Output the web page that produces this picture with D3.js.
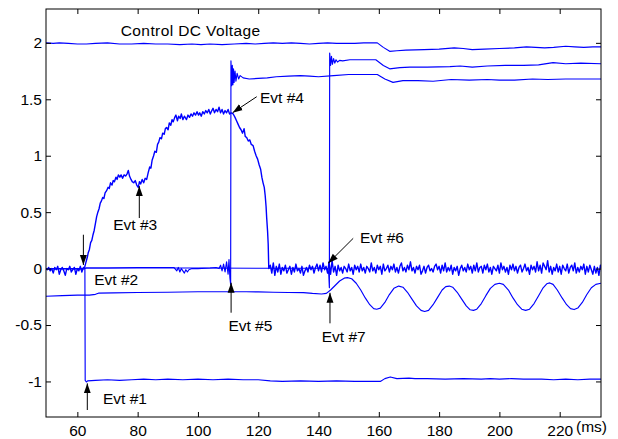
<!DOCTYPE html>
<html>
<head>
<meta charset="utf-8">
<script src="https://cdn.jsdelivr.net/npm/d3@7"></script>
<style>
  body { margin: 0; background: #fff; }
  text { font-family: Arial, "Liberation Sans", sans-serif; fill: #000; }
</style>
</head>
<body>
<svg id="chart" width="618" height="439"></svg>
<script>
// Axis set-up
const xDomain = [49.6, 233.7];
const yDomain = [-1.315, 2.3];
const xTicks = [60, 80, 100, 120, 140, 160, 180, 200, 220];
const yTicks = [-1, -0.5, 0, 0.5, 1, 1.5, 2];

// Traces: [time (ms), value]
const ctrlRef = [[49.6,2.0],[52,1.995],[54,2.0],[57,1.995],[60,1.99],[63,1.99],[66,1.995],[70,2.0],[74,1.99],[78,1.99],
  [82,1.995],[86,1.99],[90,1.99],[94,1.985],[98,1.99],[101,1.985],[104,1.99],[108,1.985],[112,1.99],[116,1.995],
  [119,1.99],[122,1.995],[125,2.0],[128,1.995],[131,2.0],[134,1.995],[137,1.99],[140,1.995],[143,2.0],[146,1.995],
  [149,1.995],[152,1.995],[155,2.0],[159.5,2.0],[161.5,1.96],[163.6,1.925],[166,1.93],[169,1.935],[175,1.94],[180,1.945],
  [185,1.955],[188,1.95],[191,1.94],[195,1.945],[200,1.95],[205,1.955],[209,1.965],[212,1.96],[215,1.955],[218,1.96],
  [222,1.97],[225,1.965],[228,1.96],[231,1.965],[233.7,1.965]];

const switchA = [[49.6,0],[62,0],[63,0.005],[70,0.005],[80,0.01],[88,0.01],[92,0.01],[93,-0.02],[93.5,0.01],[94,-0.03],
  [94.5,0],[95,-0.02],[95.5,-0.04],[96,-0.01],[96.5,-0.03],[97,-0.01],[98,0],[100,0],[104,0.005],[106,0.01],
  [107,0],[107.5,0.03],[108,-0.02],[108.5,0.04],[109,-0.03],[109.5,0.06],[110,-0.05],[110.3,0.08],[110.6,-0.08],[110.85,-0.14],
  [110.95,1.84],[111.2,1.62],[111.4,1.80],[111.6,1.63],[111.8,1.77],[112,1.65],[112.3,1.75],[112.6,1.66],[113,1.73],[113.5,1.68],
  [114,1.71],[115,1.69],[117,1.68],[120,1.685],[123,1.69],[126,1.70],[130,1.705],[134,1.71],[137,1.705],[140,1.70],
  [145,1.71],[150,1.72],[155,1.72],[159.5,1.72],[162,1.68],[164.7,1.65],[168,1.665],[173,1.665],[178,1.66],[184,1.675],
  [190,1.67],[196,1.675],[200,1.67],[205,1.67],[211,1.68],[216,1.675],[222,1.68],[228,1.68],[233.7,1.68]];

const switchB = [[49.6,0],[62,0],[63,0.005],[80,0.005],[100,0.005],[120,0.003],[140,0.003],[143,0],[143.4,-0.05],[143.6,-0.17],
  [143.7,1.91],[144,1.80],[144.3,1.88],[144.6,1.81],[145,1.86],[145.4,1.82],[145.8,1.85],[146.3,1.83],[147,1.845],[148,1.84],
  [150.4,1.85],[155,1.85],[159,1.85],[161.5,1.80],[163.6,1.77],[167,1.78],[170.3,1.785],[176,1.785],[183.6,1.79],[187,1.795],
  [191,1.785],[196,1.795],[202,1.80],[208,1.80],[213,1.805],[217.8,1.825],[222,1.815],[227,1.82],[233.7,1.815]];

const noisy = [[49.6,0],[50,-0.01],[50.5,0.01],[51,-0.02],[51.5,0],[52,-0.04],[52.5,0.01],[53,-0.01],[53.5,0.02],[54,-0.05],
  [54.5,-0.01],[55,0.01],[55.5,-0.02],[56,-0.06],[56.5,0],[57,-0.01],[57.5,0.02],[58,-0.03],[58.5,-0.01],[59,0.01],
  [59.5,-0.05],[60,0],[60.5,-0.02],[61,0.02],[61.5,-0.03],[62,0.01],[62.3,0],
  [62.8,0.05],[63.3,0.1],[63.6,0.14],[64,0.17],[64.4,0.23],[64.8,0.25],[65.2,0.30],[65.6,0.34],[66,0.40],[66.4,0.46],
  [66.8,0.50],[67.2,0.53],[67.6,0.58],[68,0.60],[68.4,0.63],[68.8,0.62],[69.2,0.67],[69.7,0.69],[70.2,0.72],[70.6,0.71],
  [71,0.76],[71.5,0.74],[71.9,0.78],[72.3,0.77],[72.8,0.81],[73.2,0.79],[73.6,0.83],[74.1,0.81],[74.5,0.83],[75,0.80],
  [75.5,0.83],[76,0.82],[76.5,0.84],[76.9,0.87],[77.3,0.82],[77.8,0.79],[78.2,0.77],[78.7,0.76],[79.2,0.78],[79.7,0.74],
  [80.2,0.72],[80.6,0.77],[81,0.75],[81.5,0.79],[82,0.76],[82.5,0.80],[83,0.79],[83.5,0.85],[84,0.90],[84.4,0.89],
  [84.8,0.96],[85.3,1.0],[85.7,1.04],[86.2,1.03],[86.6,1.10],[87,1.12],[87.4,1.16],[87.9,1.15],[88.3,1.20],[88.8,1.19],
  [89.2,1.24],[89.6,1.25],[90.1,1.23],[90.5,1.29],[91,1.27],[91.4,1.32],[91.8,1.30],[92.3,1.34],[92.7,1.36],[93.2,1.31],
  [93.6,1.35],[94.1,1.33],[94.5,1.37],[95,1.32],[95.5,1.35],[96.2,1.32],[96.7,1.36],[97.2,1.34],[97.7,1.37],[98.2,1.35],
  [98.7,1.38],[99.2,1.36],[99.7,1.39],[100.2,1.36],[100.6,1.38],[101.1,1.35],[101.6,1.39],[102.1,1.37],[102.6,1.40],[103.1,1.38],
  [103.6,1.41],[104.1,1.37],[104.6,1.40],[105,1.42],[105.5,1.38],[106,1.41],[106.5,1.39],[107,1.43],[107.5,1.38],[108,1.41],
  [108.5,1.37],[109,1.40],[109.5,1.38],[110,1.41],[110.5,1.37],[111,1.38],[111.7,1.37],[112.3,1.34],[112.8,1.31],[113.3,1.28],
  [113.8,1.25],[114.3,1.23],[114.8,1.20],[115.3,1.24],[115.7,1.17],[116.2,1.16],[116.7,1.13],[117.2,1.14],[117.7,1.10],[118.3,1.09],
  [118.8,1.04],[119.3,1.00],[119.8,0.97],[120.3,0.92],[120.8,0.88],[121.2,0.81],[121.6,0.76],[122,0.72],[122.3,0.65],[122.6,0.55],
  [122.8,0.45],[123.1,0.33],[123.3,0.22],[123.5,0],
  [124,.03],[124.5,-.04],[125,.05],[125.5,-.06],[126,.02],[126.5,-.03],[127,.04],[127.5,-.05],[128,.01],[128.5,-.02],
  [129,.03],[129.5,-.04],[130,-.01],[130.5,.02],[131,-.05],[131.5,.01],[132,-.03],[132.5,.04],[133,-.02],[133.5,0],
  [134,-.04],[134.5,.02],[135,-.06],[135.5,-.02],[136,.01],[136.5,-.03],[137,.03],[137.5,-.01],[138,.02],[138.5,-.04],
  [139,.01],[139.5,.04],[140,-.02],[140.5,.03],[141,-.03],[141.5,.05],[142,-.01],[142.5,.02],[143,-.04],[143.5,.06],
  [144,-.05],[144.5,.07],[145,-.03],[145.5,.02],[146,-.06],[146.5,.03],[147,-.02],[147.5,.01],[148,-.04],[148.5,.02],
  [149,0],[149.5,-.03],[150,.04],[150.5,-.02],[151,.01],[151.5,-.05],[152,.03],[152.5,-.01],[153,.02],[153.5,-.03],
  [154,.04],[154.5,-.02],[155,.01],[155.5,-.04],[156,.02],[156.5,0],[157,-.03],[157.5,.05],[158,-.02],[158.5,.01],
  [159,-.04],[159.5,.03],[160,-.01],[160.5,.02],[161,-.05],[161.5,.04],[162,-.02],[162.5,0],[163,.03],[163.5,-.03],
  [164,.02],[164.5,-.01],[165,.04],[165.5,-.03],[166,.01],[166.5,-.04],[167,.02],[167.5,.05],[168,-.02],[168.5,.01],
  [169,-.03],[169.5,.03],[170,-.01],[170.5,.06],[171,-.02],[171.5,.01],[172,-.04],[172.5,.02],[173,-.01],[173.5,.03],
  [174,-.05],[174.5,-.02],[175,.02],[175.5,-.04],[176,.01],[176.5,.03],[177,-.02],[177.5,0],[178,-.03],[178.5,.02],
  [179,.04],[179.5,-.01],[180,.02],[180.5,-.04],[181,.03],[181.5,-.02],[182,.05],[182.5,-.03],[183,.01],[183.5,-.02],
  [184,.03],[184.5,-.05],[185,.01],[185.5,-.02],[186,.02],[186.5,-.06],[187,0],[187.5,.03],[188,-.02],[188.5,.01],
  [189,-.03],[189.5,.04],[190,-.01],[190.5,.02],[191,-.04],[191.5,.03],[192,-.02],[192.5,.05],[193,-.03],[193.5,.01],
  [194,.02],[194.5,-.04],[195,.03],[195.5,-.01],[196,.04],[196.5,-.03],[197,.01],[197.5,-.05],[198,.02],[198.5,0],
  [199,-.02],[199.5,.03],[200,-.04],[200.5,.05],[201,-.01],[201.5,.02],[202,-.03],[202.5,.01],[203,-.05],[203.5,.03],
  [204,-.01],[204.5,.04],[205,-.02],[205.5,.02],[206,-.04],[206.5,.01],[207,.03],[207.5,-.03],[208,0],[208.5,.04],
  [209,-.02],[209.5,.01],[210,-.05],[210.5,.03],[211,-.01],[211.5,.02],[212,-.03],[212.5,.06],[213,-.02],[213.5,.03],
  [214,-.04],[214.5,.05],[215,.02],[215.5,-.01],[216,.07],[216.5,-.03],[217,.02],[217.5,-.05],[218,.01],[218.5,-.02],
  [219,.04],[219.5,-.03],[220,.02],[220.5,-.05],[221,.03],[221.5,0],[222,-.02],[222.5,.04],[223,-.04],[223.5,.01],
  [224,.03],[224.5,-.02],[225,.05],[225.5,-.04],[226,.01],[226.5,-.03],[227,.02],[227.5,-.01],[228,.04],[228.5,-.05],
  [229,.02],[229.5,-.03],[230,.03],[230.5,-.01],[231,-.05],[231.5,.02],[232,-.04],[232.5,.01],[233,-.06],[233.5,.03],[233.7,0]];

const swing = [[49.6,-0.245],[55,-0.24],[60,-0.235],[64,-0.235],[66,-0.228],[67,-0.218],[72,-0.215],[80,-0.212],[90,-0.21],[100,-0.205],
  [110,-0.205],[116,-0.205],[120,-0.207],[125,-0.21],[130,-0.212],[135,-0.213],[138,-0.22],[141,-0.225],[142.6,-0.22],[144,-0.19],
  [145.5,-0.15],[147,-0.11],[148.5,-0.085],[149.6,-0.08],[151,-0.09],[152.5,-0.13],[154,-0.19],[155.5,-0.26],[157,-0.32],[158.3,-0.355],
  [159.3,-0.36],[160.5,-0.35],[162,-0.30],[163.5,-0.23],[165,-0.175],[166.6,-0.155],[168,-0.165],[169.5,-0.21],[171,-0.27],[172.5,-0.33],
  [174,-0.37],[175.2,-0.38],[176.5,-0.37],[178,-0.32],[179.5,-0.255],[181,-0.19],[182.2,-0.16],[183.4,-0.155],[184.5,-0.165],[186,-0.21],
  [187.5,-0.27],[189,-0.33],[190.3,-0.365],[191.4,-0.37],[192.5,-0.36],[194,-0.31],[195.5,-0.24],[197,-0.175],[198.5,-0.14],[200,-0.13],
  [201.3,-0.14],[203,-0.19],[204.5,-0.26],[206,-0.32],[207.4,-0.36],[208.7,-0.37],[210,-0.36],[211.5,-0.31],[213,-0.24],[214.5,-0.17],
  [215.7,-0.135],[216.7,-0.127],[217.8,-0.14],[219.2,-0.19],[220.8,-0.26],[222.3,-0.32],[223.6,-0.355],[224.8,-0.363],[226,-0.35],[227.5,-0.30],
  [229,-0.23],[230.5,-0.17],[232,-0.14],[233.7,-0.13]];

const dropOut = [[49.6,0],[62.5,0],[62.6,-0.99],[63,-1.005],[63.4,-0.995],[66,-0.99],[70,-0.985],[74,-0.99],[78,-0.985],[82,-0.98],
  [86,-0.985],[90,-0.98],[95,-0.985],[100,-0.98],[105,-0.985],[110,-0.98],[115,-0.985],[120,-0.985],[124,-0.995],[128,-1.0],
  [134,-0.995],[140,-1.0],[146,-0.995],[152,-1.0],[158,-1.0],[160.5,-1.0],[162,-0.975],[163.8,-0.96],[166,-0.975],[170,-0.97],
  [172,-0.975],[176,-0.975],[182,-0.98],[188,-0.975],[194,-0.98],[197,-0.975],[200,-0.98],[204,-0.975],[208,-0.98],[214,-0.98],
  [218,-0.985],[222,-0.98],[226,-0.985],[230,-0.98],[233.7,-0.98]];

const smoothTraces = [swing, dropOut, switchA, switchB, ctrlRef];

// Event annotations: label, arrow tail, arrow tip, label anchor (ms, value)
const events = [
  { label: "Evt #1", tail: [63.3, -1.253], tip: [63.3, -1.017], at: [68.5, -1.2] },
  { label: "Evt #2", tail: [62.0, 0.30], tip: [62.0, 0.032], at: [65.6, -0.146] },
  { label: "Evt #3", tail: [80.55, 0.448], tip: [80.55, 0.731], at: [71.9, 0.342] },
  { label: "Evt #4", tail: [119.5, 1.523], tip: [111.5, 1.381], at: [120.6, 1.464] },
  { label: "Evt #5", tail: [111.0, -0.391], tip: [111.0, -0.125], at: [110.1, -0.553] },
  { label: "Evt #6", tail: [151.5, 0.268], tip: [143.2, 0.047], at: [153.75, 0.229] },
  { label: "Evt #7", tail: [143.8, -0.485], tip: [143.8, -0.214], at: [141.05, -0.648] }
];
const title = { label: "Control DC Voltage", at: [74.4, 2.063] };

const margin = { top: 9, right: 17, bottom: 22, left: 46 };
const W = 618, H = 439;
const width = W - margin.left - margin.right;
const height = H - margin.top - margin.bottom;

const svg = d3.select("#chart");
svg.append("rect").attr("width", W).attr("height", H).attr("fill", "#fff");

const g = svg.append("g").attr("transform", `translate(${margin.left},${margin.top})`);

const x = d3.scaleLinear().domain(xDomain).range([0, width]);
const y = d3.scaleLinear().domain(yDomain).range([height, 0]);

g.append("clipPath").attr("id", "plotClip")
  .append("rect").attr("width", width).attr("height", height);

// Traces
const line = d3.line().x(d => x(d[0])).y(d => y(d[1]));
const plot = g.append("g").attr("clip-path", "url(#plotClip)");
plot.selectAll("path.smooth")
  .data(smoothTraces)
  .join("path")
  .attr("class", "smooth")
  .attr("d", line)
  .attr("fill", "none")
  .attr("stroke", "#0000ff")
  .attr("stroke-width", 1.15)
  .attr("stroke-linejoin", "round");
plot.append("path")
  .datum(noisy)
  .attr("d", line)
  .attr("fill", "none")
  .attr("stroke", "#0000ff")
  .attr("stroke-width", 1.4)
  .attr("stroke-linejoin", "round");

// Axes (MATLAB style box with inward ticks)
const fmt = d => String(d);
const tick = 5;
const styleAxis = sel => {
  sel.select(".domain").remove();
  sel.selectAll(".tick line").attr("stroke", "#000");
  sel.selectAll("text").attr("font-size", "15.5px").attr("fill", "#000")
    .attr("font-family", 'Arial, "Liberation Sans", sans-serif');
};

g.append("g").attr("transform", `translate(0,${height})`)
  .call(d3.axisBottom(x).tickValues(xTicks).tickFormat(fmt).tickSizeInner(-tick).tickSizeOuter(0).tickPadding(8))
  .call(styleAxis);
g.append("g")
  .call(d3.axisTop(x).tickValues(xTicks).tickFormat("").tickSizeInner(-tick).tickSizeOuter(0))
  .call(styleAxis);
g.append("g")
  .call(d3.axisLeft(y).tickValues(yTicks).tickFormat(fmt).tickSizeInner(-tick).tickSizeOuter(0).tickPadding(4))
  .call(styleAxis);
g.append("g").attr("transform", `translate(${width},0)`)
  .call(d3.axisRight(y).tickValues(yTicks).tickFormat("").tickSizeInner(-tick).tickSizeOuter(0))
  .call(styleAxis);

g.append("rect")
  .attr("width", width).attr("height", height)
  .attr("fill", "none").attr("stroke", "#000").attr("stroke-width", 1);

g.append("text")
  .attr("x", x(225.4)).attr("y", height + 15)
  .attr("font-size", "15.5px")
  .text("(ms)");

// Annotations
svg.append("defs").append("marker")
  .attr("id", "head")
  .attr("viewBox", "0 -4 10 8")
  .attr("refX", 10).attr("refY", 0)
  .attr("markerUnits", "userSpaceOnUse")
  .attr("markerWidth", 10).attr("markerHeight", 8)
  .attr("orient", "auto")
  .append("path").attr("d", "M0,-3.5L10,0L0,3.5Z").attr("fill", "#000");

const ann = g.append("g");
ann.selectAll("line")
  .data(events)
  .join("line")
  .attr("x1", d => x(d.tail[0])).attr("y1", d => y(d.tail[1]))
  .attr("x2", d => x(d.tip[0])).attr("y2", d => y(d.tip[1]))
  .attr("stroke", "#000").attr("stroke-width", 1)
  .attr("marker-end", "url(#head)");

ann.selectAll("text")
  .data(events)
  .join("text")
  .attr("x", d => x(d.at[0])).attr("y", d => y(d.at[1]))
  .attr("font-size", "15.5px")
  .text(d => d.label);

g.append("text")
  .attr("x", x(title.at[0])).attr("y", y(title.at[1]))
  .attr("font-size", "15.5px")
  .attr("letter-spacing", "0.4px")
  .text(title.label);
</script>
</body>
</html>
